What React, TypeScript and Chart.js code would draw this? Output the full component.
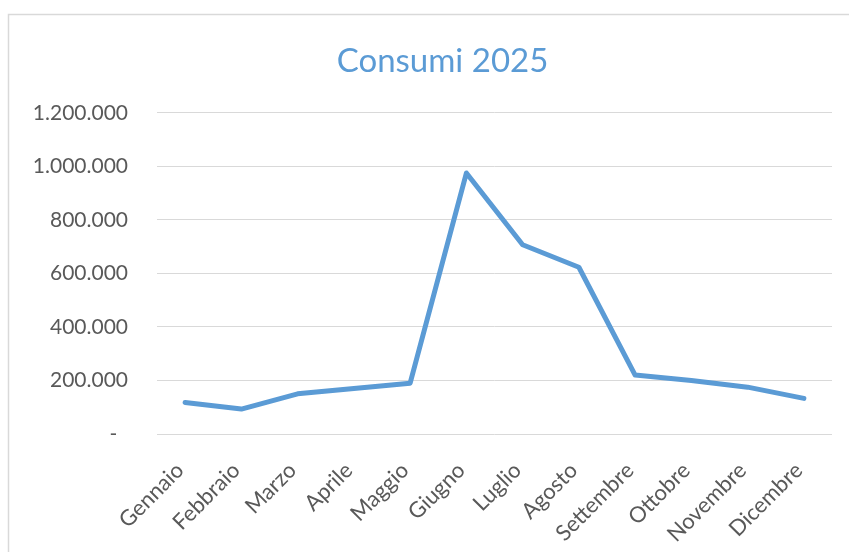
import React, { useEffect, useRef } from "react";
import { Chart, registerables } from "chart.js";

Chart.register(...registerables);

const categories = [
  "Gennaio", "Febbraio", "Marzo", "Aprile", "Maggio", "Giugno",
  "Luglio", "Agosto", "Settembre", "Ottobre", "Novembre", "Dicembre",
];
const consumi = [
  118000, 93000, 150000, 170000, 190000, 975000,
  707000, 623000, 220000, 200000, 175000, 133000,
];
const yMin = 0;
const yMax = 1200000;
const yStep = 200000;
const chartTitle = "Consumi 2025";

function formatIt(v: number): string {
  if (v === 0) return "-  ";
  return String(Math.round(v)).replace(/\B(?=(\d{3})+(?!\d))/g, ".");
}

const borderPlugin = {
  id: "outerBorder",
  afterLayout(chart: any) {
    // centre the title over the whole chart frame (Excel style), not the padded box
    if (chart.titleBlock) {
      chart.titleBlock.left = 53;
    }
  },
  beforeDraw(chart: any) {
    const ctx = chart.ctx;
    ctx.save();
    ctx.fillStyle = "#ffffff";
    ctx.fillRect(0, 0, chart.width, chart.height);
    ctx.strokeStyle = "#d9d9d9";
    ctx.lineWidth = 1.5;
    ctx.strokeRect(8.5, 14.5, chart.width + 20, chart.height + 20);
    ctx.restore();
  },
};

export default function App() {
  const ref = useRef<HTMLCanvasElement | null>(null);

  useEffect(() => {
    if (!ref.current) return;
    const chart = new Chart(ref.current, {
      type: "line",
      data: {
        labels: categories,
        datasets: [
          {
            label: chartTitle,
            data: consumi,
            borderColor: "#5B9BD5",
            backgroundColor: "#5B9BD5",
            borderWidth: 5,
            pointRadius: 0,
            pointHoverRadius: 0,
            tension: 0,
            borderCapStyle: "round",
            borderJoinStyle: "round",
            fill: false,
          },
        ],
      },
      options: {
        responsive: false,
        animation: false,
        layout: { padding: { left: 0, right: 17, top: 0, bottom: 0 } },
        plugins: {
          legend: { display: false },
          tooltip: { enabled: false },
          title: {
            display: true,
            text: chartTitle,
            color: "#5B9BD5",
            font: { family: "Lato", size: 33, weight: "normal", lineHeight: 1.2 },
            padding: { top: 42, bottom: 31.2 },
          },
        },
        scales: {
          x: {
            offset: true,
            grid: { display: false, drawTicks: false },
            border: { display: false },
            ticks: {
              color: "#595959",
              font: { family: "Lato", size: 22, lineHeight: 1 },
              minRotation: 45,
              maxRotation: 45,
              padding: 25,
              labelOffset: -5,
              autoSkip: false,
            },
            afterFit: (scale: any) => {
              scale.height = 118;
            },
          },
          y: {
            min: yMin,
            max: yMax,
            grid: { color: "#d9d9d9", lineWidth: 1, drawTicks: false },
            border: { display: false },
            ticks: {
              stepSize: yStep,
              color: "#595959",
              font: { family: "Lato", size: 21 },
              padding: 29,
              callback: (v: any) => formatIt(Number(v)),
            },
            afterFit: (scale: any) => {
              scale.width = 157;
            },
          },
        },
      },
      plugins: [borderPlugin],
    });
    return () => chart.destroy();
  }, []);

  return (
    <div style={{ position: "fixed", left: 0, top: 0, width: 849, height: 552, overflow: "hidden", background: "#fff" }}>
      <canvas ref={ref} width={849} height={552} style={{ display: "block" }} />
    </div>
  );
}
